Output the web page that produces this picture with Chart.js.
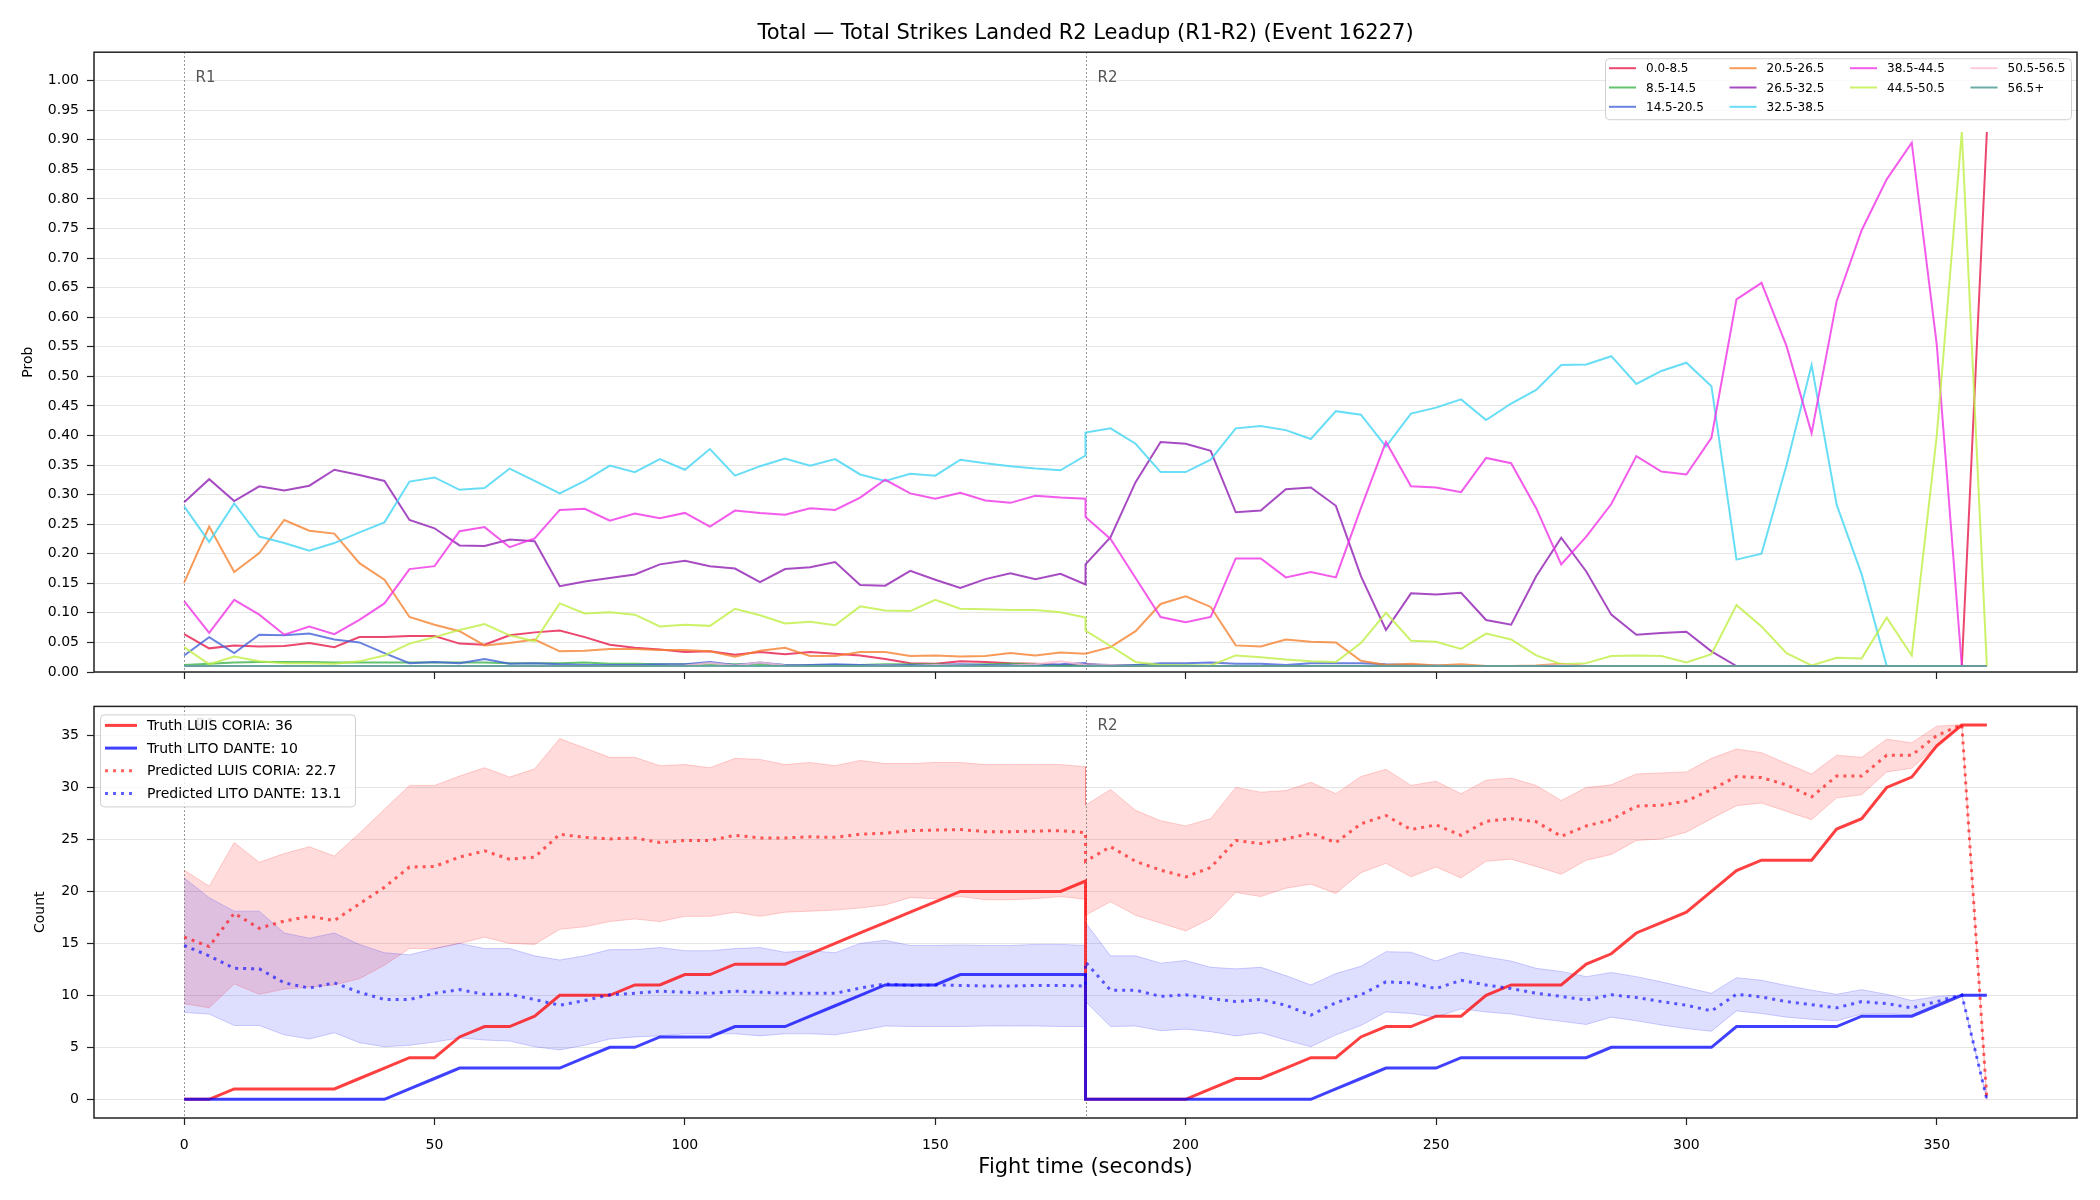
<!DOCTYPE html>
<html lang="en">
<head>
<meta charset="UTF-8">
<title>Total Strikes Landed R2 Leadup</title>
<script src="https://cdn.jsdelivr.net/npm/chart.js"></script>
<style>
  html, body { margin: 0; padding: 0; background: #fff; }
  body { width: 2100px; height: 1200px; position: relative; overflow: hidden; }
  .panel { position: absolute; left: 0; width: 2100px; }
  #topPanel { top: 0; height: 690px; }
  #bottomPanel { top: 690px; height: 510px; }
</style>
</head>
<body>
<div class="panel" id="topPanel"><canvas id="probChart"></canvas></div>
<div class="panel" id="bottomPanel"><canvas id="countChart"></canvas></div>

<script>
const FONT = '"DejaVu Sans", "Liberation Sans", sans-serif';
Chart.defaults.font.family = FONT;
Chart.defaults.color = '#000';
Chart.defaults.animation = false;

// fight time (s): round 1 then round 2, both contain t=180
const timeR1 = [0,5,10,15,20,25,30,35,40,45,50,55,60,65,70,75,80,85,90,95,100,105,110,115,120,125,130,135,140,145,150,155,160,165,170,175,180];
const timeR2 = [180,185,190,195,200,205,210,215,220,225,230,235,240,245,250,255,260,265,270,275,280,285,290,295,300,305,310,315,320,325,330,335,340,345,350,355,360];
const fightTime = timeR1.concat(timeR2);

const binLabels = ['0.0-8.5','8.5-14.5','14.5-20.5','20.5-26.5','26.5-32.5','32.5-38.5','38.5-44.5','44.5-50.5','50.5-56.5','56.5+'];
const binColors = ['230,25,75','60,180,75','67,99,216','245,130,49','145,30,180','66,212,244','240,50,230','191,239,69','250,190,212','70,153,144'];

// probability per bin (R1 row, then R2 row)
const prob_0_8 = [.064,.040,.045,.043,.044,.049,.042,.059,.059,.061,.061,.048,.046,.062,.067,.070,.059,.046,.041,.038,.034,.035,.029,.034,.030,.034,.031,.028,.022,.015,.014,.018,.017,.015,.014,.012,.013,
  .013,.011,.010,.010,.010,.010,.010,.010,.010,.010,.010,.010,.010,.010,.010,.010,.010,.010,.010,.010,.010,.010,.010,.010,.010,.010,.010,.010,.010,.010,.010,.010,.010,.010,.010,.010,.913];
const prob_8_14 = [.012,.014,.016,.017,.017,.017,.016,.016,.016,.016,.016,.016,.016,.015,.015,.015,.016,.014,.014,.013,.013,.013,.013,.013,.012,.012,.012,.012,.013,.013,.013,.012,.013,.014,.013,.011,.011,
  .011,.012,.012,.011,.011,.010,.010,.010,.010,.010,.010,.010,.010,.010,.010,.010,.010,.010,.010,.010,.010,.010,.010,.010,.010,.010,.010,.010,.010,.010,.010,.010,.010,.010,.010,.010,.010];
const prob_14_20 = [.028,.059,.032,.063,.062,.065,.055,.050,.032,.015,.017,.015,.022,.014,.015,.013,.012,.012,.012,.013,.013,.017,.012,.016,.012,.012,.013,.012,.012,.012,.012,.013,.012,.012,.012,.013,.015,
  .013,.012,.012,.015,.015,.016,.014,.014,.012,.015,.015,.015,.013,.012,.011,.010,.010,.010,.010,.010,.010,.010,.010,.010,.010,.010,.010,.010,.010,.010,.010,.010,.010,.010,.010,.010,.010];
const prob_20_26 = [.151,.246,.169,.201,.257,.239,.234,.184,.156,.093,.080,.069,.045,.049,.055,.035,.036,.039,.039,.037,.037,.035,.026,.036,.041,.027,.027,.034,.034,.027,.028,.026,.027,.032,.028,.033,.031,
  .031,.042,.069,.115,.128,.110,.045,.043,.055,.051,.050,.019,.012,.014,.011,.013,.010,.010,.011,.014,.010,.010,.010,.010,.010,.010,.010,.010,.010,.010,.010,.010,.010,.010,.010,.010,.010];
const prob_26_32 = [.287,.326,.289,.314,.307,.315,.342,.333,.323,.257,.243,.214,.213,.224,.221,.145,.153,.159,.165,.182,.188,.179,.175,.152,.174,.177,.186,.147,.146,.171,.156,.142,.157,.167,.157,.166,.148,
  .182,.228,.321,.389,.386,.374,.270,.273,.309,.312,.281,.162,.071,.133,.131,.134,.088,.080,.162,.227,.170,.097,.063,.066,.068,.035,.010,.010,.010,.010,.010,.010,.010,.010,.010,.010,.010];
const prob_32_38 = [.280,.220,.285,.229,.218,.205,.218,.236,.253,.322,.329,.308,.311,.344,.323,.302,.323,.349,.338,.360,.342,.377,.332,.348,.361,.349,.360,.334,.323,.335,.332,.359,.353,.348,.344,.341,.366,
  .405,.412,.386,.338,.338,.359,.412,.416,.409,.394,.441,.435,.381,.437,.447,.461,.426,.454,.477,.519,.520,.534,.487,.509,.523,.483,.190,.200,.350,.519,.283,.165,.010,.010,.010,.010,.010];
const prob_38_44 = [.120,.066,.122,.097,.063,.077,.064,.088,.116,.174,.179,.238,.245,.211,.226,.274,.276,.256,.268,.260,.269,.246,.273,.269,.266,.277,.274,.295,.325,.302,.293,.303,.290,.286,.298,.295,.293,
  .262,.225,.159,.093,.084,.093,.192,.192,.160,.169,.160,.277,.389,.314,.312,.304,.362,.353,.277,.182,.229,.284,.365,.339,.334,.396,.630,.658,.551,.404,.627,.747,.833,.895,.553,.010,.010];
const prob_44_50 = [.042,.013,.026,.018,.015,.015,.014,.018,.028,.048,.059,.071,.081,.062,.052,.116,.099,.101,.097,.077,.080,.078,.107,.096,.082,.085,.079,.111,.104,.103,.122,.107,.106,.105,.105,.101,.092,
  .070,.044,.017,.012,.011,.011,.028,.025,.021,.018,.017,.049,.100,.053,.051,.039,.065,.055,.028,.013,.015,.027,.028,.027,.016,.030,.113,.077,.032,.011,.024,.023,.092,.028,.400,.913,.010];
const prob_50_56 = [.010,.010,.010,.010,.010,.010,.010,.010,.010,.010,.010,.010,.010,.010,.010,.010,.010,.010,.010,.010,.011,.015,.011,.016,.011,.010,.010,.010,.011,.010,.012,.011,.010,.011,.013,.018,.012,
  .011,.012,.010,.010,.010,.010,.010,.010,.010,.010,.010,.010,.010,.010,.010,.010,.010,.010,.010,.012,.010,.010,.010,.010,.010,.010,.010,.010,.010,.010,.010,.010,.010,.010,.010,.010,.010];
const prob_56_up = [.010,.010,.010,.010,.010,.010,.010,.010,.010,.010,.010,.010,.010,.010,.010,.010,.010,.010,.010,.010,.010,.010,.010,.010,.010,.010,.010,.010,.010,.010,.010,.010,.010,.010,.010,.010,.010,
  .010,.010,.010,.010,.010,.010,.010,.010,.010,.010,.010,.010,.010,.010,.010,.010,.010,.010,.010,.010,.010,.010,.010,.010,.010,.010,.010,.010,.010,.010,.010,.010,.010,.010,.010,.010,.010];

// cumulative strikes (R1 row, then R2 row)
const truthCoria = [0,0,1,1,1,1,1,2,3,4,4,6,7,7,8,10,10,10,11,11,12,12,13,13,13,14,15,16,17,18,19,20,20,20,20,20,21,
  0,0,0,0,0,1,2,2,3,4,4,6,7,7,8,8,10,11,11,11,13,14,16,17,18,20,22,23,23,23,26,27,30,31,34,36,36];
const truthDante = [0,0,0,0,0,0,0,0,0,1,2,3,3,3,3,3,4,5,5,6,6,6,7,7,7,8,9,10,11,11,11,12,12,12,12,12,12,
  0,0,0,0,0,0,0,0,0,0,1,2,3,3,3,4,4,4,4,4,4,5,5,5,5,5,7,7,7,7,7,8,8,8,9,10,10];
const predCoria = [15.6,14.7,17.9,16.45,17.15,17.6,17.2,18.8,20.4,22.35,22.4,23.3,23.9,23.1,23.3,25.5,25.2,25.05,25.15,24.7,24.9,24.9,25.4,25.15,25.15,25.25,25.2,25.5,25.6,25.85,25.9,25.95,25.75,25.75,25.8,25.85,25.65,
  22.9,24.3,22.9,22.05,21.4,22.3,24.9,24.6,25.05,25.6,24.7,26.5,27.3,25.95,26.4,25.4,26.75,27.0,26.7,25.3,26.3,26.9,28.2,28.3,28.7,29.8,31.05,30.95,30.25,29.1,31.1,31.1,33.1,33.1,35.0,36.05,0];
const predDante = [14.8,13.8,12.6,12.55,11.2,10.7,11.2,10.3,9.6,9.6,10.2,10.55,10.1,10.1,9.6,9.05,9.5,10.05,10.2,10.4,10.3,10.2,10.4,10.3,10.2,10.2,10.2,10.7,11.1,10.95,11.0,10.95,10.9,10.9,10.95,10.95,10.9,
  13.2,10.5,10.5,9.9,10.05,9.7,9.4,9.6,9.05,8.1,9.3,10.05,11.3,11.2,10.65,11.45,11.0,10.65,10.2,9.9,9.55,10.05,9.8,9.4,9.05,8.5,10.1,9.85,9.4,9.1,8.8,9.4,9.2,8.8,9.4,10.05,0];
const coriaHigh = [22.05,20.5,24.7,22.8,23.65,24.3,23.4,25.6,27.9,30.2,30.2,31.1,31.9,31.0,31.8,34.7,33.8,32.9,32.9,32.1,32.2,31.9,32.8,32.7,32.2,32.4,32.1,32.6,32.3,32.3,32.4,32.4,32.2,32.2,32.2,32.2,32.0,
  28.3,29.8,27.8,26.8,26.3,27.0,30.0,29.55,29.7,30.5,29.4,31.05,31.75,30.2,30.6,29.4,30.7,30.9,30.2,28.75,30.0,30.25,31.3,31.4,31.5,32.8,33.7,33.35,32.3,31.3,33.1,32.9,34.65,34.3,35.9,36.05,0];
const coriaLow = [9.2,8.8,11.1,10.1,10.6,10.8,11.0,11.6,12.9,14.5,14.5,15.0,15.6,15.0,14.9,16.35,16.6,17.1,17.35,17.1,17.6,17.6,18.0,17.6,18.0,18.1,18.2,18.4,18.7,19.4,19.3,19.5,19.2,19.2,19.3,19.5,19.25,
  17.7,19.0,17.7,16.95,16.2,17.4,19.9,19.5,20.3,20.7,19.8,21.8,22.7,21.4,22.35,21.3,22.9,23.1,22.4,21.65,23.0,23.55,24.9,25.05,25.7,27.0,28.25,28.5,27.7,26.9,29.0,29.3,31.5,31.85,34.0,36.05,0];
const danteHigh = [21.3,19.4,18.1,18.1,16.0,15.5,16.0,14.9,14.1,13.9,14.5,15.0,14.5,14.5,13.8,13.4,13.8,14.4,14.4,14.6,14.3,14.3,14.5,14.6,14.15,14.3,14.1,15.0,15.3,14.8,14.8,14.85,14.8,14.8,14.9,14.9,14.8,
  17.0,13.8,13.8,13.1,13.35,12.7,12.55,12.7,11.9,11.0,12.1,12.8,14.2,14.15,13.3,14.15,13.7,13.3,12.6,12.3,11.8,12.2,11.8,11.3,10.75,10.2,11.7,11.45,10.95,10.5,10.1,10.55,10.1,9.5,9.9,10.05,0];
const danteLow = [8.35,8.2,7.1,7.1,6.2,5.8,6.4,5.45,5.05,5.2,5.5,5.9,5.7,5.6,5.05,4.75,5.2,5.8,6.0,6.1,6.3,6.3,6.3,6.1,6.3,6.3,6.2,6.6,7.05,7.0,7.0,7.0,7.05,7.05,7.05,7.0,7.0,
  9.4,7.0,7.05,6.6,6.75,6.5,6.1,6.4,5.7,5.05,6.2,7.1,8.4,8.25,7.9,8.7,8.4,8.2,7.8,7.5,7.2,7.9,7.55,7.15,6.8,6.55,8.5,8.25,7.9,7.7,7.55,8.2,8.25,8.1,9.2,10.05,0];

const countLegend = ['Truth LUIS CORIA: 36', 'Truth LITO DANTE: 10', 'Predicted LUIS CORIA: 22.7', 'Predicted LITO DANTE: 13.1'];

const toPoints = ys => ys.map((y, i) => ({ x: fightTime[i], y }));
const rgba = (rgb, a) => `rgba(${rgb},${a})`;

// dotted round boundaries + R labels
const roundMarkers = {
  id: 'roundMarkers',
  beforeDatasetsDraw(chart, args, o) {
    const { ctx, chartArea: a, scales: { x } } = chart;
    ctx.save();
    o.marks.forEach(m => {
      const px = Math.round(x.getPixelForValue(m.t)) + 0.5;
      ctx.strokeStyle = '#777';
      ctx.lineWidth = 1;
      ctx.setLineDash([1.5, 2.5]);
      ctx.beginPath();
      ctx.moveTo(px, a.top);
      ctx.lineTo(px, a.bottom);
      ctx.stroke();
      if (m.label) {
        ctx.setLineDash([]);
        ctx.fillStyle = '#555';
        ctx.font = '15px ' + FONT;
        ctx.textBaseline = 'middle';
        ctx.fillText(m.label, px + 11, a.top + o.labelOffset);
      }
    });
    ctx.restore();
  }
};

// box around the plot area
const frame = {
  id: 'frame',
  afterDatasetsDraw(chart) {
    const { ctx, chartArea: a } = chart;
    ctx.save();
    ctx.strokeStyle = '#222';
    ctx.lineWidth = 1.5;
    ctx.strokeRect(a.left, a.top, a.right - a.left, a.bottom - a.top);
    ctx.restore();
  }
};

// legend drawn inside the plot area, filled column by column
const boxLegend = {
  id: 'boxLegend',
  afterDraw(chart, args, o) {
    const { ctx, chartArea: a } = chart;
    const left = o.corner === 'right' ? a.right - o.dx - o.width : a.left + o.dx;
    const top = a.top + o.dy;
    ctx.save();
    ctx.beginPath();
    if (ctx.roundRect) ctx.roundRect(left + 0.5, top + 0.5, o.width, o.height, 4);
    else ctx.rect(left + 0.5, top + 0.5, o.width, o.height);
    ctx.fillStyle = 'rgba(255,255,255,0.8)';
    ctx.fill();
    ctx.strokeStyle = '#d0d0d0';
    ctx.lineWidth = 1;
    ctx.stroke();
    ctx.font = o.fontSize + 'px ' + FONT;
    ctx.textBaseline = 'middle';
    let col = 0, row = 0;
    o.items.forEach(it => {
      if (row >= o.colSizes[col]) { col++; row = 0; }
      const x0 = left + o.padX + col * o.colWidth;
      const y = top + o.firstRow + row * o.rowHeight;
      row++;
      ctx.strokeStyle = it.color;
      ctx.lineWidth = it.width;
      ctx.setLineDash(it.dash || []);
      ctx.beginPath();
      ctx.moveTo(x0, y);
      ctx.lineTo(x0 + o.lineLen, y);
      ctx.stroke();
      ctx.setLineDash([]);
      ctx.fillStyle = '#000';
      ctx.fillText(it.label, x0 + o.textGap, y + 1);
    });
    ctx.restore();
  }
};

const probSeries = [prob_0_8, prob_8_14, prob_14_20, prob_20_26, prob_26_32, prob_32_38, prob_38_44, prob_44_50, prob_50_56, prob_56_up];

new Chart(document.getElementById('probChart'), {
  type: 'line',
  data: {
    datasets: binLabels.map((label, k) => ({
      label,
      data: toPoints(probSeries[k]),
      borderColor: rgba(binColors[k], 0.8),
      borderWidth: 2,
      pointRadius: 0,
      tension: 0,
      fill: false,
      order: binLabels.length - k
    }))
  },
  options: {
    responsive: true,
    maintainAspectRatio: false,
    layout: { padding: { left: 0, right: 23, top: 0, bottom: 11 } },
    scales: {
      x: {
        type: 'linear', min: -18, max: 378,
        ticks: { display: false, stepSize: 50, includeBounds: false },
        grid: { drawOnChartArea: false, drawTicks: true, tickLength: 7, tickColor: '#222', tickWidth: 1.2 },
        border: { display: false }
      },
      y: {
        min: 0, max: 1.048,
        ticks: { stepSize: 0.05, includeBounds: false, padding: 8, font: { size: 14 }, callback: v => v.toFixed(2) },
        grid: { color: 'rgba(0,0,0,0.1)', tickColor: '#222', tickLength: 7, tickWidth: 1.2 },
        border: { display: false },
        title: { display: true, text: 'Prob', font: { size: 14 }, padding: { top: 20, bottom: 0 } },
        afterFit: s => { s.width = 94; }
      }
    },
    plugins: {
      legend: { display: false },
      tooltip: { enabled: false },
      title: {
        display: true,
        fullSize: false,
        text: 'Total — Total Strikes Landed R2 Leadup (R1-R2) (Event 16227)',
        font: { size: 21, weight: 'normal' },
        color: '#000',
        padding: { top: 21, bottom: 6 }
      },
      roundMarkers: { marks: [{ t: 0, label: 'R1' }, { t: 180, label: 'R2' }], labelOffset: 26 },
      boxLegend: {
        corner: 'right', dx: 6, dy: 6, width: 466, height: 61,
        colSizes: [3, 3, 2, 2], colWidth: 120.5, padX: 4, firstRow: 10, rowHeight: 19.3,
        lineLen: 27, textGap: 37, fontSize: 12,
        items: binLabels.map((label, k) => ({ label, color: rgba(binColors[k], 0.8), width: 2 }))
      }
    }
  },
  plugins: [roundMarkers, frame, boxLegend]
});

const RED = '255,0,0', BLUE = '0,0,255';

new Chart(document.getElementById('countChart'), {
  type: 'line',
  data: {
    datasets: [
      { label: 'coriaLow', data: toPoints(coriaLow), borderColor: rgba(RED, 0.18), borderWidth: 1, pointRadius: 0, fill: false, order: 9 },
      { label: 'coriaHigh', data: toPoints(coriaHigh), borderColor: rgba(RED, 0.18), borderWidth: 1, pointRadius: 0, fill: '-1', backgroundColor: rgba(RED, 0.14), order: 8 },
      { label: 'danteLow', data: toPoints(danteLow), borderColor: rgba(BLUE, 0.18), borderWidth: 1, pointRadius: 0, fill: false, order: 7 },
      { label: 'danteHigh', data: toPoints(danteHigh), borderColor: rgba(BLUE, 0.18), borderWidth: 1, pointRadius: 0, fill: '-1', backgroundColor: rgba(BLUE, 0.13), order: 6 },
      { label: countLegend[0], data: toPoints(truthCoria), borderColor: rgba(RED, 0.75), borderWidth: 3, pointRadius: 0, fill: false, order: 4 },
      { label: countLegend[1], data: toPoints(truthDante), borderColor: rgba(BLUE, 0.75), borderWidth: 3, pointRadius: 0, fill: false, order: 3 },
      { label: countLegend[2], data: toPoints(predCoria), borderColor: rgba(RED, 0.62), borderWidth: 3, borderDash: [3, 5], pointRadius: 0, fill: false, order: 2 },
      { label: countLegend[3], data: toPoints(predDante), borderColor: rgba(BLUE, 0.62), borderWidth: 3, borderDash: [3, 5], pointRadius: 0, fill: false, order: 1 }
    ]
  },
  options: {
    responsive: true,
    maintainAspectRatio: false,
    layout: { padding: { left: 0, right: 23, top: 14, bottom: 0 } },
    scales: {
      x: {
        type: 'linear', min: -18, max: 378,
        ticks: { stepSize: 50, includeBounds: false, padding: 12, font: { size: 14 }, maxRotation: 0 },
        grid: { drawOnChartArea: false, tickLength: 7, tickColor: '#222', tickWidth: 1.2 },
        border: { display: false },
        title: { display: true, text: 'Fight time (seconds)', font: { size: 21 }, padding: { top: 0, bottom: 20 } },
        afterFit: s => { s.height = 82; }
      },
      y: {
        min: -1.8, max: 37.8,
        ticks: { stepSize: 5, includeBounds: false, padding: 8, font: { size: 14 } },
        grid: { color: 'rgba(0,0,0,0.1)', tickColor: '#222', tickLength: 7, tickWidth: 1.2 },
        border: { display: false },
        title: { display: true, text: 'Count', font: { size: 14 }, padding: { top: 32, bottom: 0 } },
        afterFit: s => { s.width = 94; }
      }
    },
    plugins: {
      legend: { display: false },
      tooltip: { enabled: false },
      filler: { drawTime: 'beforeDatasetsDraw' },
      roundMarkers: { marks: [{ t: 0, label: 'R1' }, { t: 180, label: 'R2' }], labelOffset: 20 },
      boxLegend: {
        corner: 'left', dx: 6, dy: 8, width: 255, height: 92,
        colSizes: [4], colWidth: 0, padX: 5, firstRow: 11, rowHeight: 22.7,
        lineLen: 32, textGap: 42, fontSize: 14,
        items: [
          { label: countLegend[0], color: rgba(RED, 0.75), width: 3 },
          { label: countLegend[1], color: rgba(BLUE, 0.75), width: 3 },
          { label: countLegend[2], color: rgba(RED, 0.62), width: 3, dash: [3, 5] },
          { label: countLegend[3], color: rgba(BLUE, 0.62), width: 3, dash: [3, 5] }
        ]
      }
    }
  },
  plugins: [roundMarkers, frame, boxLegend]
});
</script>
</body>
</html>
